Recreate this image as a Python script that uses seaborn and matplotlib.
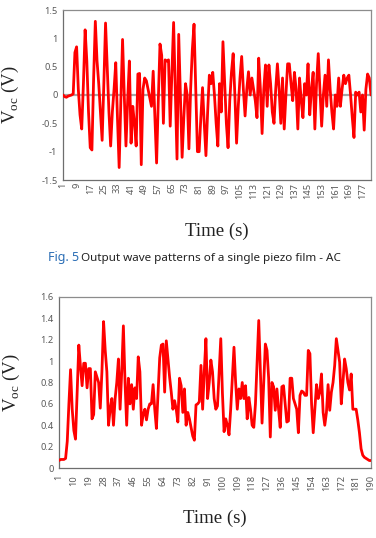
import numpy as np
import pandas as pd
import matplotlib
matplotlib.use('Agg')
import matplotlib.pyplot as plt
import seaborn as sns

# --- data ---
voc_ac = [0.00, -0.03, -0.04, -0.02, -0.01, 0.00, 0.02, 0.75, 0.85, 0.10,
          -0.35, -0.60, 0.20, 1.15, 0.60, -0.30, -0.93, -0.97, 0.30, 1.30,
          0.60, 0.20, -0.30, -0.80, 0.20, 1.27, 0.50, -0.30, -0.90, -0.30,
          0.10, 0.57, -0.40, -1.28, -0.10, 0.98, 0.00, -0.90, -0.10, 0.60,
          -0.85, -0.20, -0.50, -0.90, 0.37, 0.38, -1.23, 0.10, 0.30, 0.25,
          0.10, -0.05, -0.20, 0.42, -0.40, -1.20, -0.10, 0.90, 0.70, -0.50,
          0.62, 0.60, 0.62, -0.55, 0.40, 1.28, 0.10, -1.13, 1.07, 0.00,
          -1.10, -0.40, 0.20, 0.00, -0.95, 0.10, 0.80, 1.25, 0.10, -1.00,
          -1.00, -0.40, 0.13, -0.50, -1.07, -0.30, 0.35, 0.20, 0.40, 0.00,
          -0.50, -0.90, 0.20, -0.30, 0.94, 0.20, -0.50, -0.93, -0.10, 0.40,
          0.73, 0.00, -0.85, -0.20, 0.30, 0.68, 0.10, -0.37, 0.10, 0.41,
          0.00, 0.30, 0.10, -0.10, -0.40, 0.65, 0.10, -0.68, 0.10, 0.53,
          -0.20, 0.53, 0.20, -0.30, -0.50, 0.10, 0.55, 0.10, -0.50, 0.30,
          -0.60, 0.00, 0.55, 0.55, 0.20, -0.10, 0.40, 0.10, -0.60, 0.30,
          -0.10, -0.40, 0.20, 0.00, 0.55, -0.35, 0.10, 0.40, -0.60, 0.20,
          0.73, 0.10, -0.55, 0.00, 0.35, -0.20, 0.62, 0.10, -0.30, -0.60,
          0.00, -0.20, 0.30, -0.20, 0.10, 0.35, 0.20, 0.30, 0.35, 0.00,
          -0.40, -0.75, 0.05, 0.00, 0.05, -0.30, 0.00, -0.62, 0.10, 0.37,
          0.30, 0.00]
time_ac = list(range(1, len(voc_ac) + 1))
xticks_ac = list(range(1, 178, 8))
yticks_ac = [-1.5, -1, -0.5, 0, 0.5, 1, 1.5]
ylabels_ac = ['-1.5', '-1', '-0.5', '0', '0.5', '1', '1.5']

voc_dc = [0.07, 0.08, 0.08, 0.08, 0.09, 0.25, 0.60, 0.92, 0.55, 0.35,
          0.27, 0.70, 1.15, 0.95, 0.77, 0.98, 0.98, 0.75, 0.93, 0.93,
          0.46, 0.50, 0.90, 0.85, 0.80, 0.56, 0.90, 1.37, 1.10, 0.90,
          0.40, 0.55, 0.65, 0.40, 0.65, 0.80, 1.02, 0.55, 0.90, 1.33,
          0.80, 0.40, 0.84, 0.60, 0.78, 0.55, 0.75, 0.65, 1.04, 0.90,
          0.40, 0.50, 0.55, 0.45, 0.55, 0.60, 0.60, 0.78, 0.55, 0.37,
          0.70, 1.03, 1.15, 1.16, 0.71, 1.19, 1.02, 0.85, 0.71, 0.55,
          0.63, 0.55, 0.43, 0.84, 0.77, 0.52, 0.74, 0.40, 0.52, 0.46,
          0.38, 0.30, 0.26, 0.59, 0.60, 0.62, 0.96, 0.55, 0.90, 1.21,
          0.65, 0.80, 1.01, 0.90, 0.65, 0.55, 0.58, 0.90, 1.21, 0.70,
          0.34, 0.46, 0.40, 0.31, 0.55, 0.85, 1.13, 0.80, 0.55, 0.74,
          0.65, 0.80, 0.65, 0.77, 0.46, 0.66, 0.55, 0.40, 0.38, 0.60,
          1.00, 1.38, 0.90, 0.42, 0.80, 1.16, 1.10, 0.84, 0.29, 0.80,
          0.76, 0.54, 0.74, 0.55, 0.38, 0.76, 0.77, 0.60, 0.43, 0.44,
          0.84, 0.84, 0.65, 0.60, 0.55, 0.33, 0.68, 0.72, 0.71, 0.68,
          0.68, 1.10, 1.07, 0.60, 0.33, 0.55, 0.78, 0.65, 0.71, 0.88,
          0.52, 0.40, 0.52, 0.78, 0.54, 0.71, 0.80, 0.96, 1.21, 1.10,
          0.99, 0.60, 0.80, 1.02, 0.93, 0.80, 0.73, 0.88, 0.55, 0.55,
          0.55, 0.45, 0.33, 0.18, 0.12, 0.10, 0.09, 0.08, 0.07, 0.07]
time_dc = list(range(1, len(voc_dc) + 1))
xticks_dc = list(range(1, 191, 9))
yticks_dc = [0, 0.2, 0.4, 0.6, 0.8, 1, 1.2, 1.4, 1.6]
ylabels_dc = ['0', '0.2', '0.4', '0.6', '0.8', '1', '1.2', '1.4', '1.6']

caption_fig = 'Fig. 5'
caption_text = 'Output wave patterns of a single piezo film - AC'

# --- style ---
sns.set_theme(style='white')
plt.rcParams['font.family'] = ['Noto Sans', 'DejaVu Sans']
plt.rcParams['mathtext.fontset'] = 'custom'
plt.rcParams['mathtext.rm'] = 'Liberation Serif'

fig = plt.figure(figsize=(3.76, 5.38), dpi=100)
ax1 = fig.add_axes([63 / 376, 1 - 180 / 538, 308 / 376, 170 / 538])
ax2 = fig.add_axes([59 / 376, 1 - 468 / 538, 312 / 376, 171 / 538])

serif = {'family': 'Liberation Serif', 'size': 13.5, 'color': '#222222'}
ylab = r'V$_{\mathregular{oc}}$ (V)'


def style_axes(ax, xticks, yticks, ylabels, xlim, ylim):
    ax.set_xlim(*xlim)
    ax.set_ylim(*ylim)
    ax.set_xticks(xticks)
    ax.set_xticklabels([str(t) for t in xticks], rotation=90)
    ax.set_yticks(yticks)
    ax.set_yticklabels(ylabels)
    ax.tick_params(axis='both', labelsize=6.7, labelcolor='#595959',
                   colors='#7f7f7f', length=2, width=0.6, pad=2)
    for side in ['top', 'right']:
        ax.spines[side].set_color('#8c8c8c')
        ax.spines[side].set_linewidth(0.9)
    for side in ['left', 'bottom']:
        ax.spines[side].set_color('#6e6e6e')
        ax.spines[side].set_linewidth(0.9)
    ax.set_xlabel('Time (s)', fontdict=serif)
    ax.set_ylabel(ylab, fontdict=serif)


# top chart (AC)
ax1.axhline(0, color='#a6a6a6', lw=1.6, zorder=1)
sns.lineplot(x=time_ac, y=voc_ac, ax=ax1, color='#ff0000', lw=2.0, zorder=3)
style_axes(ax1, xticks_ac, yticks_ac, ylabels_ac, (1, 182), (-1.5, 1.5))
ax1.tick_params(axis='x', length=0)
ax1.xaxis.set_label_coords(0.5, -0.25)
ax1.yaxis.set_label_coords(-0.135, 0.5)

# bottom chart
sns.lineplot(x=time_dc, y=voc_dc, ax=ax2, color='#ff0000', lw=2.0, zorder=3)
style_axes(ax2, xticks_dc, yticks_dc, ylabels_dc, (1, 190), (0, 1.6))
ax2.set_xticks(time_dc, minor=True)
ax2.tick_params(axis='x', which='both', length=3, color='#a0a0a0', width=0.5)
ax2.xaxis.set_label_coords(0.5, -0.245)
ax2.yaxis.set_label_coords(-0.12, 0.5)

# caption
t1 = fig.text(48 / 376, 1 - 258 / 538, caption_fig, color='#2a6db5',
              fontsize=9, va='center', ha='left', family='Noto Sans')
fig.canvas.draw()
bb = t1.get_window_extent(fig.canvas.get_renderer())
fig.text((bb.x1 + 2) / 376, 1 - 258 / 538, caption_text, color='#222222',
         fontsize=8.4, va='center', ha='left', family='Noto Sans')

fig.savefig('out.png', dpi=100)
plt.close(fig)
